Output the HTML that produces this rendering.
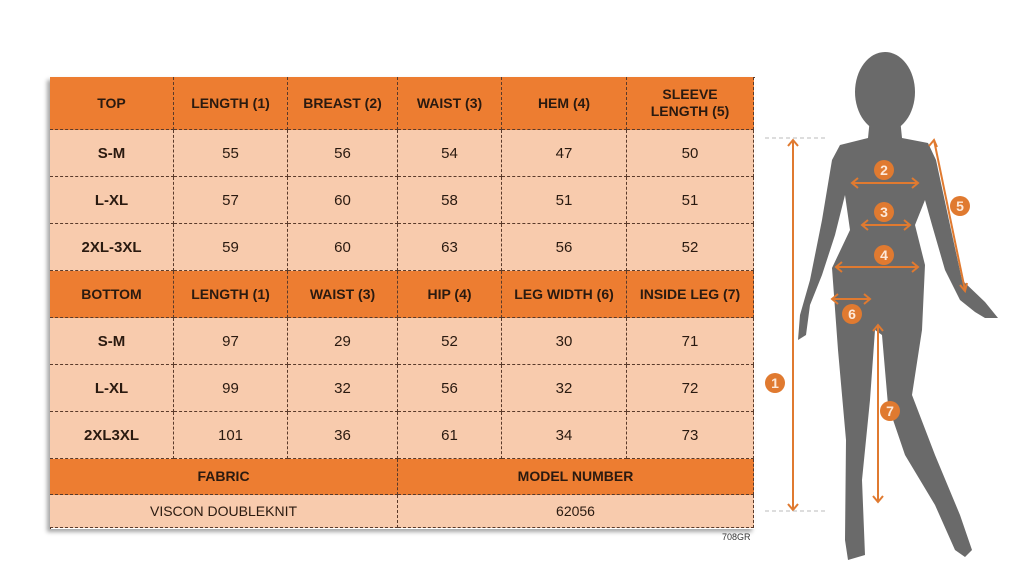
<!DOCTYPE html>
<html><head><meta charset="utf-8"><style>
body{margin:0;width:1024px;height:571px;background:#fff;position:relative;overflow:hidden;font-family:"Liberation Sans",sans-serif}
.c{position:absolute;display:flex;align-items:center;justify-content:center;text-align:center;box-sizing:border-box;border-right:1px dashed #5a3a2a;border-bottom:1px dashed #5a3a2a;color:#2a1a10}
.h{background:#ED7D31;font-weight:bold;font-size:14px;line-height:17px}
.d{background:#F8CBAD;font-size:15px}
.f{font-weight:bold}
#tbl{position:absolute;left:50px;top:77px;width:704px;height:451px;border-left:1px dashed #5a3a2a;border-top:1px dashed #5a3a2a;box-shadow:-3px 3px 4px rgba(0,0,0,0.35)}
</style></head><body>
<div id="tbl"></div>
<div id="cells"></div>
<div style="position:absolute;left:722px;top:532px;font-size:9px;color:#333">708GR</div>
<svg style="position:absolute;left:0;top:0" width="1024" height="571">
<g fill="#6a6a6a">
<ellipse cx="885" cy="92" rx="30" ry="40"/>
<path d="M870 118 L900 118 L902 138 L928 143 L936 160 L950 225 L962 280 L985 302 L998 318 L985 318 L975 312 L960 300 L945 270 L932 225 L925 200 L915 225 L925 265 L922 330 L912 395 L935 455 L960 515 L972 550 L965 557 L955 550 L935 505 L905 455 L888 405 L882 335 L875 330 L870 400 L862 480 L865 555 L848 560 L845 540 L846 440 L838 350 L832 268 L850 230 L845 195 L835 235 L822 275 L810 305 L806 335 L798 340 L800 315 L810 280 L822 220 L832 160 L840 145 L868 138 Z"/>
</g>
<g stroke="#E07A30" stroke-width="2" fill="none">
<line x1="793" y1="140" x2="793" y2="510"/>
<path d="M788 146 L793 140 L798 146 M788 504 L793 510 L798 504"/>
<line x1="878" y1="325" x2="878" y2="502"/>
<path d="M873 331 L878 325 L883 331 M873 496 L878 502 L883 496"/>
<line x1="934" y1="140" x2="965" y2="290"/>
<path d="M929 146 L934 140 L937 147 M960 285 L965 291 L967 283"/>
<line x1="852" y1="183" x2="918" y2="183"/>
<path d="M858 178 L852 183 L858 188 M912 178 L918 183 L912 188"/>
<line x1="862" y1="225" x2="910" y2="225"/>
<path d="M868 220 L862 225 L868 230 M904 220 L910 225 L904 230"/>
<line x1="836" y1="267" x2="918" y2="267"/>
<path d="M842 262 L836 267 L842 272 M912 262 L918 267 L912 272"/>
<line x1="832" y1="299" x2="870" y2="299"/>
<path d="M838 294 L832 299 L838 304 M864 294 L870 299 L864 304"/>
</g>
<g stroke="#bbb" stroke-dasharray="4 3"><line x1="765" y1="138" x2="828" y2="138"/><line x1="765" y1="511" x2="828" y2="511"/></g>
<g fill="#E07A30"><circle cx="884" cy="170" r="10"/><circle cx="884" cy="212" r="10"/><circle cx="884" cy="255" r="10"/><circle cx="960" cy="206" r="10"/><circle cx="852" cy="314" r="10"/><circle cx="775" cy="383" r="10"/><circle cx="890" cy="411" r="10"/></g>
<g fill="#fde9d9" font-size="14" font-weight="bold" text-anchor="middle" font-family="Liberation Sans,sans-serif">
<text x="884" y="175">2</text><text x="884" y="217">3</text><text x="884" y="260">4</text><text x="960" y="211">5</text><text x="852" y="319">6</text><text x="775" y="388">1</text><text x="890" y="416">7</text></g>
</svg>
<script>
var X=[50,174,288,398,502,627,754];
var Y=[77,130,177,224,271,318,365,412,459,495,528];
var rows=[
["h",["TOP","LENGTH (1)","BREAST (2)","WAIST (3)","HEM (4)","SLEEVE<br>LENGTH (5)"]],
["d",["S-M","55","56","54","47","50"]],
["d",["L-XL","57","60","58","51","51"]],
["d",["2XL-3XL","59","60","63","56","52"]],
["h",["BOTTOM","LENGTH (1)","WAIST (3)","HIP (4)","LEG WIDTH (6)","INSIDE LEG (7)"]],
["d",["S-M","97","29","52","30","71"]],
["d",["L-XL","99","32","56","32","72"]],
["d",["2XL3XL","101","36","61","34","73"]]];
var s="";
rows.forEach(function(r,i){r[1].forEach(function(t,j){
s+='<div class="c '+r[0]+(j==0?' f':'')+'" style="left:'+X[j]+'px;top:'+Y[i]+'px;width:'+(X[j+1]-X[j])+'px;height:'+(Y[i+1]-Y[i])+'px">'+t+'</div>';});});
s+='<div class="c h" style="left:50px;top:459px;width:348px;height:36px">FABRIC</div>';
s+='<div class="c h" style="left:398px;top:459px;width:356px;height:36px">MODEL NUMBER</div>';
s+='<div class="c d" style="left:50px;top:495px;width:348px;height:33px;font-size:14px">VISCON DOUBLEKNIT</div>';
s+='<div class="c d" style="left:398px;top:495px;width:356px;height:33px;font-size:14px">62056</div>';
document.getElementById("cells").innerHTML=s;
</script>
</body></html>
